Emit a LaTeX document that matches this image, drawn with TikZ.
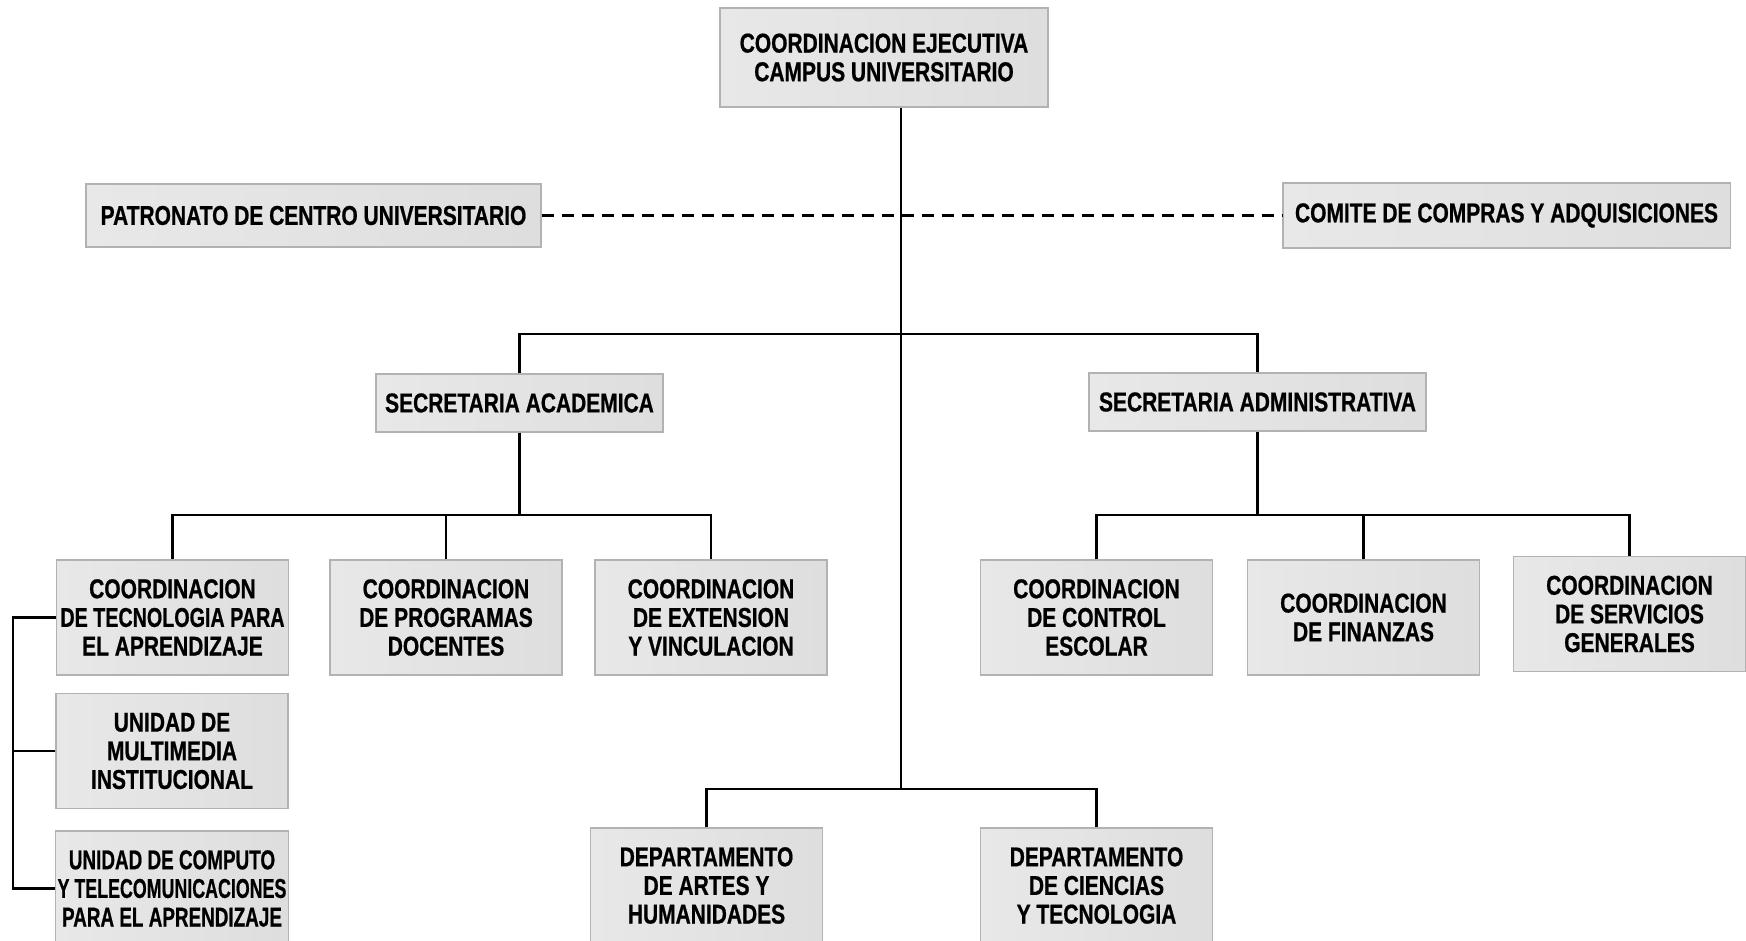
\documentclass[tikz,border=0pt]{standalone}
\usepackage{graphicx}
\usepackage{fontspec}
\setmainfont{Liberation Sans}[FakeStretch=0.77, BoldFeatures={FakeBold=0.7}]
\usetikzlibrary{calc}
\newcommand{\hsq}[2]{\scalebox{#1}[1]{#2}}
\tikzset{
  orgb/.style={draw=black!30, line width=0.6pt, left color=black!9,
    middle color=white, right color=black!13, align=center, inner sep=1pt,
    font=\bfseries\fontsize{15.5}{16.3}\selectfont},
  rowb/.style={orgb, minimum width=46.4mm, minimum height=23mm},
  link/.style={line width=1.4pt, draw=black},
  dlink/.style={line width=1.3pt, draw=black, dash pattern=on 2.4mm off 1.6mm},
}
\begin{document}
\begin{tikzpicture}[x=0.2mm, y=-0.2mm]
  \useasboundingbox (0,0) rectangle (1746,941);
  % top level
  \node[orgb, minimum width=65.6mm, minimum height=19.8mm] (ceo) at (884,57.5)
    {COORDINACION EJECUTIVA\\CAMPUS UNIVERSITARIO};
  \node[orgb, minimum width=91mm, minimum height=12.6mm] (pat) at (313.5,215.5)
    {PATRONATO DE CENTRO UNIVERSITARIO};
  \node[orgb, minimum width=89.4mm, minimum height=13mm] (com) at (1506.5,215.5)
    {COMITE DE COMPRAS Y ADQUISICIONES};
  % secretarias
  \node[orgb, minimum width=57.4mm, minimum height=11.6mm] (sa) at (519.5,403)
    {SECRETARIA ACADEMICA};
  \node[orgb, minimum width=67.4mm, minimum height=11.6mm] (sd) at (1257.5,402)
    {SECRETARIA ADMINISTRATIVA};
  % coordinaciones
  \node[rowb] (tec) at (172.5,617.5) {COORDINACION\\\hsq{0.94}{DE TECNOLOGIA PARA}\\EL APRENDIZAJE};
  \node[rowb] (prog) at (446,617.5) {COORDINACION\\DE PROGRAMAS\\DOCENTES};
  \node[rowb] (ext) at (711,617.5) {COORDINACION\\DE EXTENSION\\Y VINCULACION};
  \node[rowb] (ctrl) at (1096.5,617.5) {COORDINACION\\DE CONTROL\\ESCOLAR};
  \node[rowb] (fin) at (1363.5,617.5) {COORDINACION\\DE FINANZAS};
  \node[rowb] (serv) at (1629.5,614) {COORDINACION\\DE SERVICIOS\\GENERALES};
  \node[rowb] (mult) at (172,751) {UNIDAD DE\\MULTIMEDIA\\INSTITUCIONAL};
  \node[rowb] (comp) at (172,888.5) {\hsq{0.9}{UNIDAD DE COMPUTO}\\\hsq{0.85}{Y TELECOMUNICACIONES}\\\hsq{0.9}{PARA EL APRENDIZAJE}};
  % departamentos
  \node[rowb] (art) at (706.5,885.5) {DEPARTAMENTO\\DE ARTES Y\\HUMANIDADES};
  \node[rowb] (cie) at (1096.5,885.5) {DEPARTAMENTO\\DE CIENCIAS\\Y TECNOLOGIA};
  % connectors
  \coordinate (hub) at (901,334);
  \coordinate (dbar) at (901,789);
  \coordinate (abar) at (0,515);
  \coordinate (lb) at (13,0);
  \draw[dlink] (pat.east) -- (com.west);
  \draw[link] (ceo.south -| hub) -- (dbar);
  \draw[link] (sa.north) |- (hub) -| (sd.north);
  \draw[link] (sa.south) -- (sa.south |- abar);
  \draw[link] (tec.north) |- (sa.south |- abar) -| (ext.north);
  \draw[link] (prog.north) -- (prog.north |- abar);
  \draw[link] (sd.south) -- (sd.south |- abar);
  \draw[link] (ctrl.north) |- (sd.south |- abar) -| (serv.north);
  \draw[link] (fin.north) -- (fin.north |- abar);
  \draw[link] (art.north) |- (dbar) -| (cie.north);
  \draw[link] (tec.west) -| (lb |- comp.west) -- (comp.west);
  \draw[link] (mult.west) -- (mult.west -| lb);
\end{tikzpicture}
\end{document}
